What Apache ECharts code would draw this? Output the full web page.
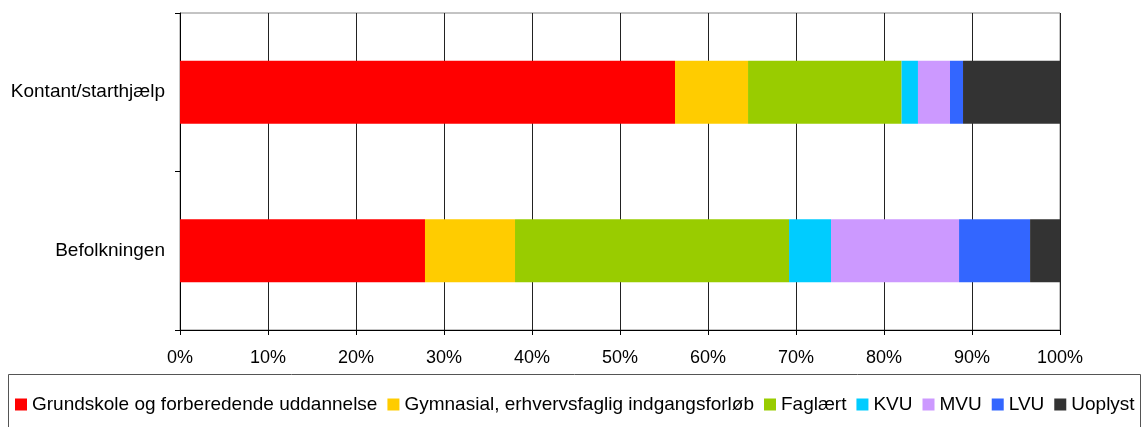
<!DOCTYPE html>
<html>
<head>
    <meta charset="UTF-8">
    <title>Uddannelse</title>
    <script type="text/javascript" src="https://cdn.jsdelivr.net/npm/echarts@6/dist/echarts.min.js"></script>
    <style>
        html, body { margin: 0; padding: 0; background: #fff; }
        #main { width: 1142px; height: 427px; }
    </style>
</head>
<body>
<div id="main"></div>
<script type="text/javascript">
    // kategorier (øverst først)
    var categories = ['Kontant/starthjælp', 'Befolkningen'];
    var seriesNames = ['Grundskole og forberedende uddannelse', 'Gymnasial, erhvervsfaglig indgangsforløb',
        'Faglært', 'KVU', 'MVU', 'LVU', 'Uoplyst'];
    var colors = ['#FF0000', '#FFCC00', '#99CC00', '#00CCFF', '#CC99FF', '#3366FF', '#333333'];
    // andele i procent, [Kontant/starthjælp, Befolkningen]
    var grundskole = [56.25, 27.84];
    var gymnasial = [8.3, 10.23];
    var faglaert = [17.45, 31.14];
    var kvu = [1.86, 4.77];
    var mvu = [3.64, 14.55];
    var lvu = [1.48, 8.07];
    var uoplyst = [11.02, 3.41];
    var values = [grundskole, gymnasial, faglaert, kvu, mvu, lvu, uoplyst];

    var font = 'Liberation Sans, Arial, sans-serif';
    var myChart = echarts.init(document.getElementById('main'));

    var series = [];
    for (var i = 0; i < seriesNames.length; i++) {
        series.push({
            name: seriesNames[i],
            type: 'bar',
            stack: 'total',
            barWidth: 63,
            itemStyle: { color: colors[i] },
            data: values[i]
        });
    }

    var option = {
        animation: false,
        grid: {
            left: 180, right: 82, top: 13, bottom: 97,
            show: true, borderColor: '#888', borderWidth: 1
        },
        xAxis: {
            type: 'value',
            min: 0, max: 100, interval: 10,
            axisLine: { show: true, lineStyle: { color: '#000' } },
            axisTick: { show: true, length: 5, lineStyle: { color: '#000' } },
            splitLine: { show: true, lineStyle: { color: '#222', width: 1 } },
            axisLabel: { formatter: '{value}%', color: '#000', fontSize: 18, fontFamily: font, margin: 19 }
        },
        yAxis: {
            type: 'category',
            inverse: true,
            data: categories,
            axisLine: { show: true, lineStyle: { color: '#000' } },
            axisTick: { show: true, length: 5, lineStyle: { color: '#000' } },
            axisLabel: { color: '#000', fontSize: 19, fontFamily: font, margin: 15 }
        },
        legend: {
            left: 10, top: 390,
            itemWidth: 12, itemHeight: 12, itemGap: 10,
            icon: 'rect',
            textStyle: { color: '#000', fontSize: 19, fontFamily: font, padding: [0, 0, 0, 0] },
            data: seriesNames
        },
        graphic: [{
            type: 'rect',
            shape: { x: 8.5, y: 374.5, width: 1132, height: 60 },
            style: { fill: 'none', stroke: '#555', lineWidth: 1 },
            z: -1
        }],
        series: series
    };

    myChart.setOption(option);
</script>
</body>
</html>
